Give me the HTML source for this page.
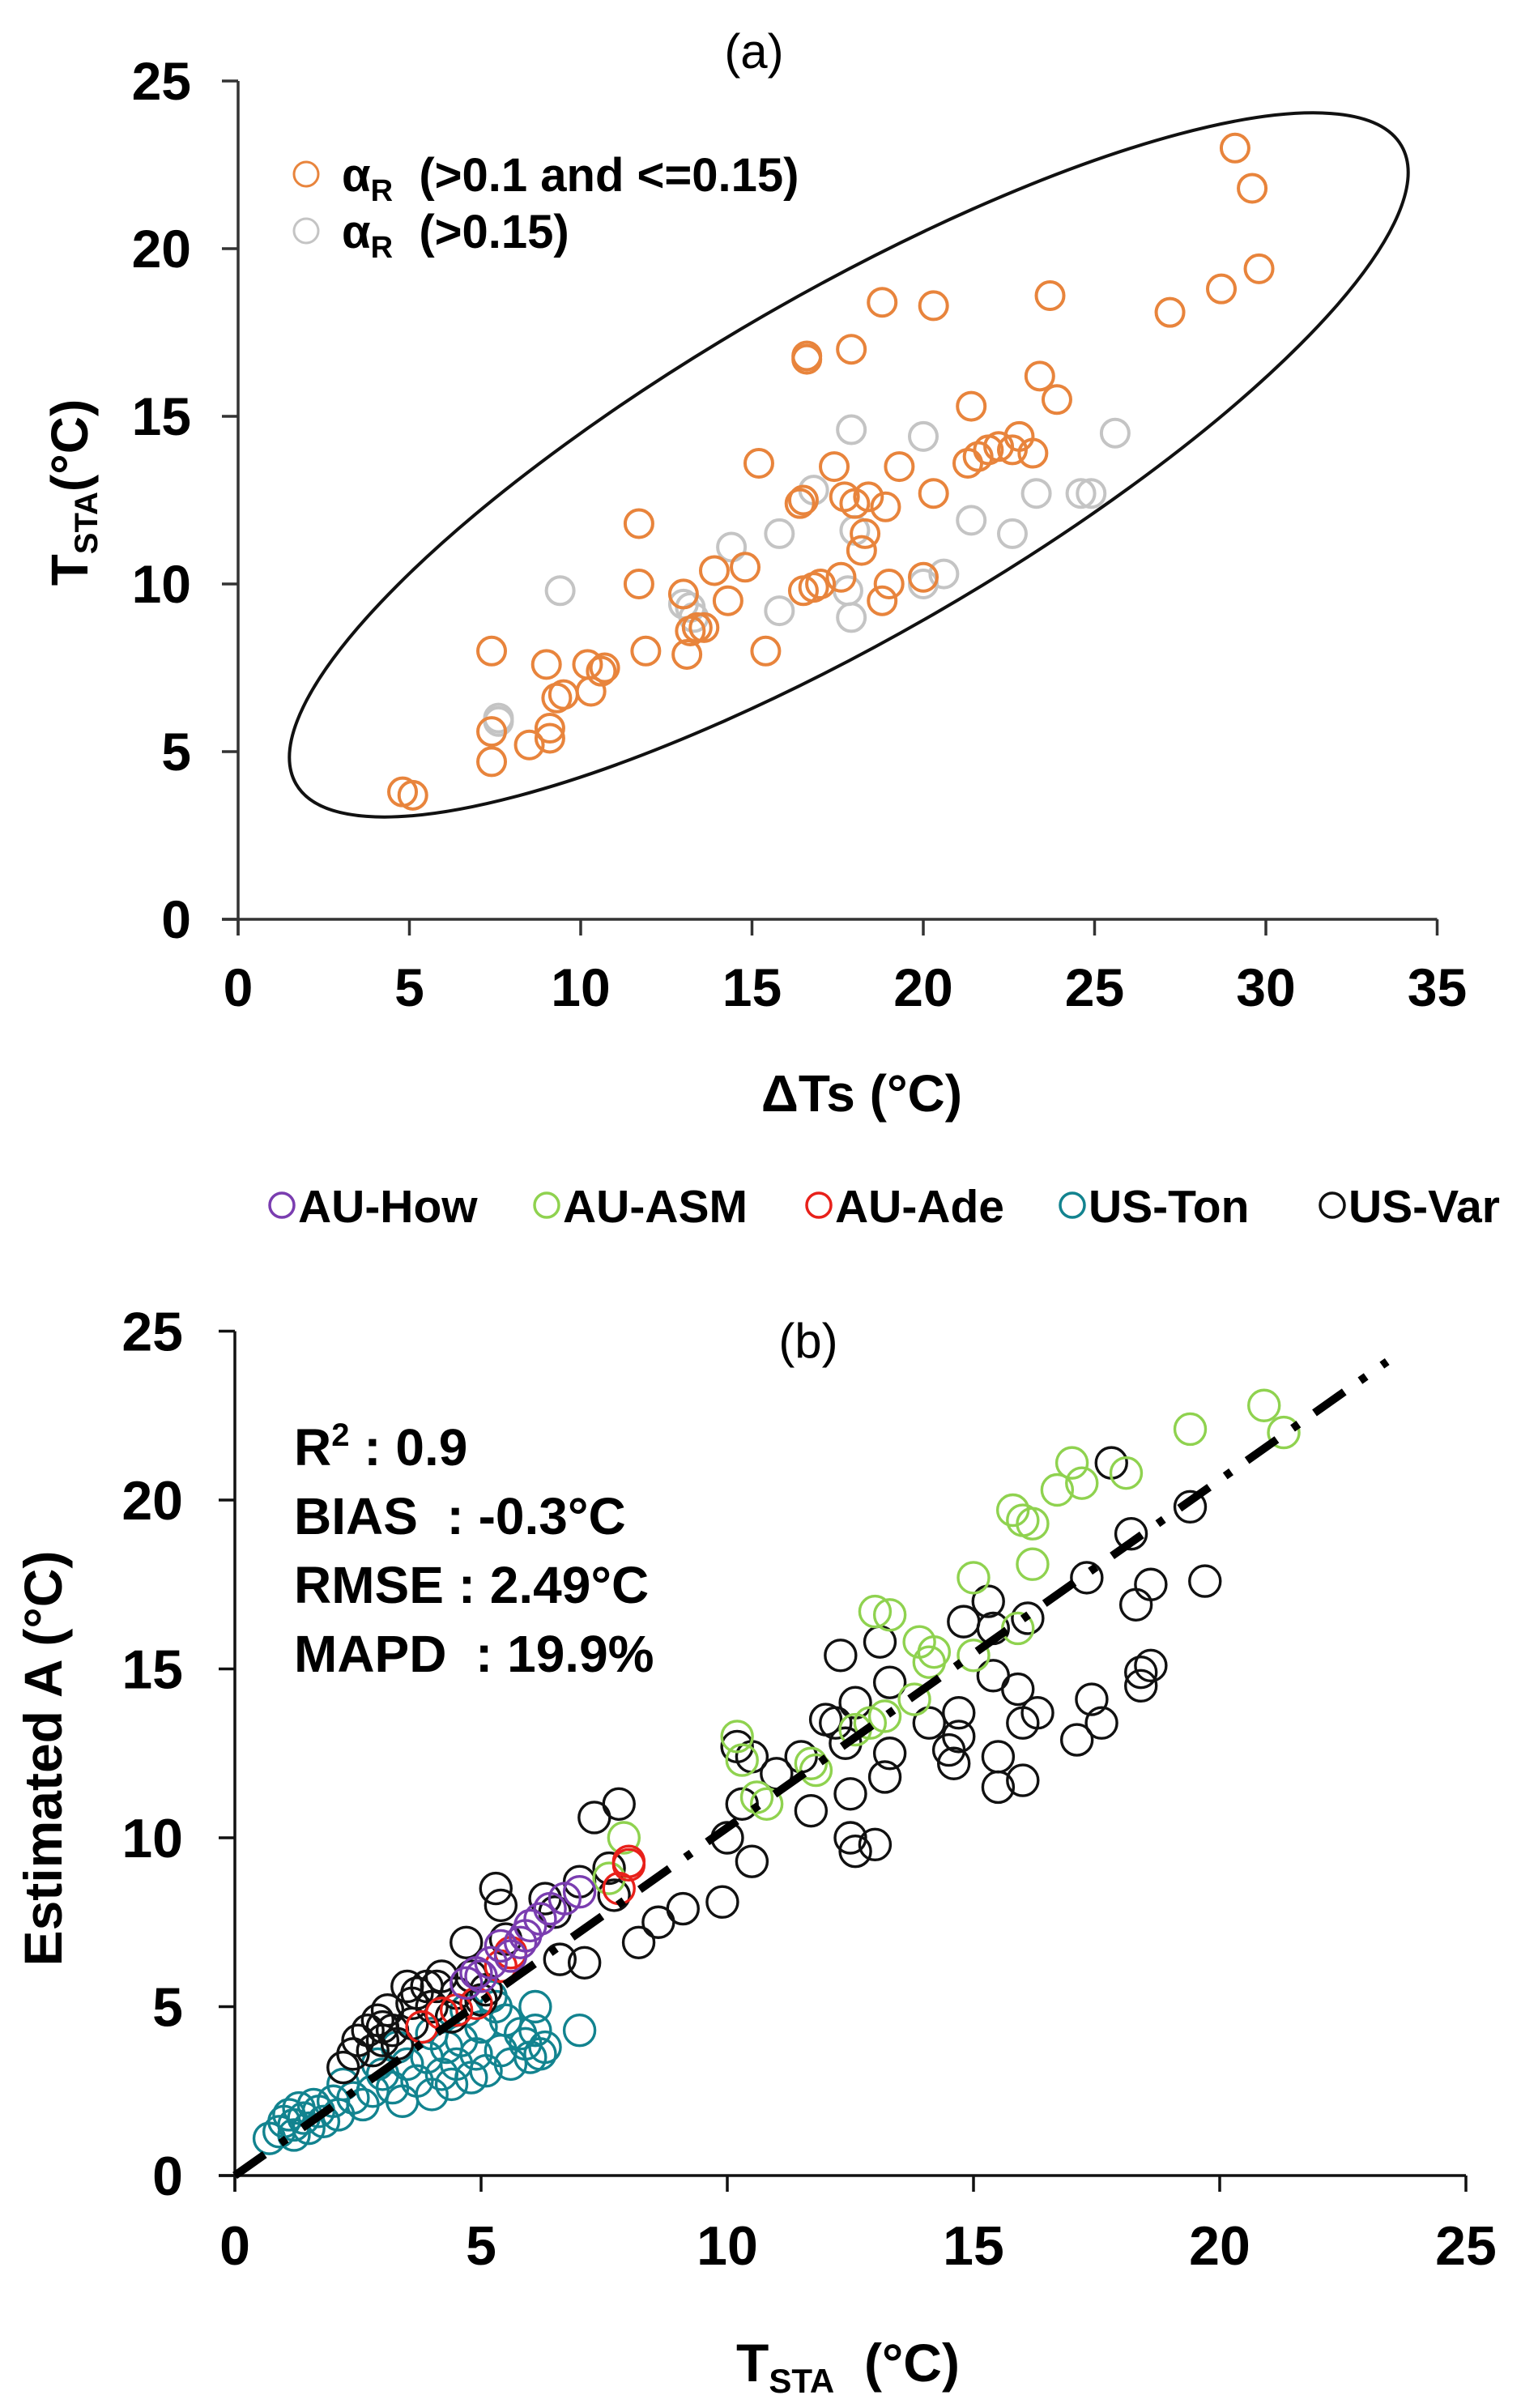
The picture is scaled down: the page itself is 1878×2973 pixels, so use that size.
<!DOCTYPE html>
<html><head><meta charset="utf-8"><style>
html,body{margin:0;padding:0;background:#fff;}
svg{display:block;font-family:"Liberation Sans",Arial,sans-serif;}
.pre{white-space:pre;}
</style></head><body>
<svg id="fig" width="1878" height="2973" viewBox="0 0 1878 2973" xmlns="http://www.w3.org/2000/svg">
<g id="pa"></g>
<g id="pb"></g>
</svg>
<script>
// ---------- Chart (a) data ----------
const aTicksX = [0,5,10,15,20,25,30,35];
const aTicksY = [0,5,10,15,20,25];
const aOrangeX = [4.8,5.1,7.4,7.4,7.4,8.5,9.0,9.1,9.1,9.3,9.5,10.2,10.3,10.6,10.7,11.7,11.7,11.9,13.0,13.1,13.2,13.4,13.6,13.9,14.3,14.8,15.2,15.4,16.4,16.5,16.5,16.6,16.6,17.0,17.4,17.6,17.9,17.7,18.0,18.2,18.3,18.4,18.8,18.8,18.9,19.0,19.3,20.3,20.3,21.3,21.4,21.6,21.9,22.2,22.6,22.8,23.2,23.4,23.7,23.9,27.2,28.7,29.1,29.6,29.8,20.0,16.8];
const aOrangeY = [3.8,3.7,8.0,4.7,5.6,5.2,7.6,5.4,5.7,6.6,6.7,7.6,6.8,7.4,7.5,11.8,10.0,8.0,9.7,7.9,8.6,8.7,8.7,10.4,9.5,10.5,13.6,8.0,12.4,9.8,12.5,16.7,16.8,10.0,13.5,10.2,17.0,12.6,12.4,11.0,11.5,12.6,18.4,9.5,12.3,10.0,13.5,18.3,12.7,13.6,15.3,13.8,14.0,14.1,14.0,14.4,13.9,16.2,18.6,15.5,18.1,18.8,23.0,21.8,19.4,10.2,9.9];
const aGrayX = [7.6,7.6,9.4,13.0,13.3,14.4,15.8,15.8,16.8,17.9,17.8,17.9,18.0,20.0,20.0,20.6,21.4,22.6,23.3,24.6,24.9,25.6,13.2];
const aGrayY = [5.9,6.0,9.8,9.4,9.0,11.1,11.5,9.2,12.8,14.6,9.8,9.0,11.6,14.4,10.0,10.3,11.9,11.5,12.7,12.7,12.7,14.5,9.3];

// ---------- Chart (b) data ----------
const bTicksX = [0,5,10,15,20,25];
const bTicksY = [0,5,10,15,20,25];
const tonX = [0.7,0.9,1.0,1.1,1.2,1.3,1.4,1.5,1.6,1.7,1.8,2.0,2.1,2.2,2.4,2.6,2.8,3.0,3.2,3.4,3.5,3.7,3.9,4.0,4.2,4.3,4.4,4.5,4.6,4.8,4.9,5.0,5.1,5.3,5.4,5.5,5.6,5.8,5.9,6.0,6.1,6.2,6.3,5.2,4.7,7.0,6.1,4.0,3.3,2.9,1.2];
const tonY = [1.1,1.3,1.6,1.8,1.5,2.0,1.7,1.4,2.1,1.9,1.6,2.2,1.8,2.7,2.3,2.1,2.5,3.0,2.6,2.2,3.3,2.8,3.5,2.4,3.0,3.8,2.7,3.3,4.0,2.9,3.6,4.4,3.1,5.0,3.7,4.6,3.3,4.2,3.9,3.5,4.3,3.6,3.8,5.3,4.9,4.3,5.0,4.2,3.8,3.3,1.2];
const varX = [2.2,2.4,2.5,2.7,2.8,2.9,3.0,3.1,3.2,3.3,3.5,3.6,3.7,3.9,4.0,4.2,4.4,4.5,4.7,4.8,5.0,5.1,5.3,5.4,5.5,6.3,6.5,6.6,7.0,7.1,7.3,7.8,7.6,7.7,8.2,8.6,9.1,9.9,10.0,10.2,10.3,10.5,10.5,11.0,11.5,11.7,12.0,12.2,12.3,12.4,12.5,12.5,12.6,12.6,13.1,13.0,13.2,13.3,13.3,14.1,14.5,14.6,14.7,14.7,14.8,15.3,15.4,15.4,15.5,15.5,15.9,16.0,16.0,16.1,16.3,17.1,17.3,17.4,17.6,17.8,18.2,18.3,18.4,18.4,18.6,18.6,19.4,19.7,3.0,3.6,4.1];
const varY = [3.2,3.6,4.0,4.3,3.7,4.6,4.0,4.9,4.3,3.9,5.6,5.1,5.4,5.6,5.0,5.9,4.7,5.4,6.9,5.9,5.2,5.5,8.5,8.0,7.0,8.2,7.8,6.4,8.7,6.3,10.6,11.0,9.1,8.3,6.9,7.5,7.9,8.1,10.0,12.7,11.0,12.4,9.3,11.9,12.4,10.8,13.5,13.4,15.4,12.8,11.3,10.0,9.6,14.0,15.8,9.8,11.8,14.6,12.5,13.4,12.6,12.2,13.0,13.7,16.4,17.0,14.8,16.2,12.4,11.5,14.4,11.7,13.4,16.5,13.7,12.9,17.7,14.1,13.4,21.1,19.0,16.9,14.5,14.9,17.5,15.1,19.8,17.6,4.4,4.5,5.6];
const asmX = [7.9,7.6,10.2,10.3,10.6,10.8,11.7,11.8,12.6,13.0,13.3,12.9,13.2,13.8,13.9,14.1,14.2,15.0,15.0,15.8,15.9,16.0,16.2,16.2,16.7,17.0,17.2,18.1,19.4,20.9,21.3];
const asmY = [10.0,8.8,13.0,12.3,11.2,11.0,12.2,12.0,13.2,16.7,16.6,13.4,13.6,14.1,15.8,15.2,15.5,15.4,17.7,19.7,16.2,19.4,19.3,18.1,20.3,21.1,20.5,20.8,22.1,22.8,22.0];
const adeX = [3.8,4.2,4.5,5.4,5.6,7.8,8.0,8.0,4.9];
const adeY = [4.4,4.8,4.9,6.2,6.6,8.5,9.2,9.3,5.1];
const howX = [4.7,4.9,5.2,5.4,5.6,5.9,6.0,6.2,6.4,6.7,7.0,5.0,5.8];
const howY = [5.7,6.0,6.3,6.8,6.5,7.1,7.4,7.6,7.9,8.2,8.4,5.9,6.9];
const fitLineX = [0,23.4];
const fitLineY = [0,24.1];
const legendNames = ["AU-How","AU-ASM","AU-Ade","US-Ton","US-Var"];
const statLines = ["BIAS  : -0.3°C","RMSE : 2.49°C","MAPD  : 19.9%"];

const NS="http://www.w3.org/2000/svg";
function mk(tag, parent, attrs){const e=document.createElementNS(NS,tag);for(const k in attrs)e.setAttribute(k,attrs[k]);parent.appendChild(e);return e;}

const ax = v => 294 + v*42.3;
const ay = v => 1135 - v*41.4;
const bx = v => 290 + v*60.8;
const by = v => 2686 - v*41.7;

// ===== Chart A =====
const A=document.getElementById('pa');
let t;
t=mk('text',A,{x:931,y:84,'font-size':60,'text-anchor':'middle'});t.textContent='(a)';


let el=mk('ellipse',A,{cx:1048,cy:574,rx:788,ry:212,transform:'rotate(-30 1048 574)',fill:'none',stroke:'#111','stroke-width':4});


let ln=mk('line',A,{x1:ax(0),y1:ay(25),x2:ax(0),y2:ay(0)+20,stroke:'#333','stroke-width':3.5});


ln=mk('line',A,{x1:ax(0)-20,y1:ay(0),x2:ax(35),y2:ay(0),stroke:'#333','stroke-width':3.5});


aTicksY.forEach(v=>{
  const tk=mk('line',A,{x1:ax(0)-20,y1:ay(v),x2:ax(0),y2:ay(v),stroke:'#333','stroke-width':3.5});
  
  
  const tx=mk('text',A,{x:236,y:ay(v)+23,'font-size':66,'font-weight':'bold','text-anchor':'end'});tx.textContent=v;
  
  
});
aTicksX.forEach(v=>{
  const tk=mk('line',A,{x1:ax(v),y1:ay(0),x2:ax(v),y2:ay(0)+20,stroke:'#333','stroke-width':3.5});
  
  
  const tx=mk('text',A,{x:ax(v),y:1242,'font-size':66,'font-weight':'bold','text-anchor':'middle'});tx.textContent=v;
  
  
});
t=mk('text',A,{x:1064,y:1372,'font-size':64,'font-weight':'bold','text-anchor':'middle'});t.textContent='ΔTs (°C)';


t=mk('text',A,{x:0,y:0,'font-size':64,'font-weight':'bold','text-anchor':'middle',transform:'translate(108 608) rotate(-90)'});
t.innerHTML='T<tspan font-size="40" dy="12">STA</tspan><tspan dy="-12">(°C)</tspan>';


aGrayX.forEach((v,i)=>{const c=mk('circle',A,{cx:ax(v),cy:ay(aGrayY[i]),r:17,fill:'none',stroke:'#c4c4c4','stroke-width':4});
  
  });
aOrangeX.forEach((v,i)=>{const c=mk('circle',A,{cx:ax(v),cy:ay(aOrangeY[i]),r:17,fill:'none',stroke:'#e8843c','stroke-width':4});
  
  });
let c=mk('circle',A,{cx:378,cy:215,r:15,fill:'none',stroke:'#e8843c','stroke-width':3});


t=mk('text',A,{x:422,y:236,'font-size':58,'font-weight':'bold','class':'pre'});t.innerHTML='α<tspan font-size="38" dy="12">R</tspan><tspan dy="-12">  (&gt;0.1 and &lt;=0.15)</tspan>';


c=mk('circle',A,{cx:378,cy:285,r:15,fill:'none',stroke:'#c4c4c4','stroke-width':3});


t=mk('text',A,{x:422,y:306,'font-size':58,'font-weight':'bold','class':'pre'});t.innerHTML='α<tspan font-size="38" dy="12">R</tspan><tspan dy="-12">  (&gt;0.15)</tspan>';



// ===== Chart B =====
const B=document.getElementById('pb');
const colors=['#7a3db0','#8fd24f','#e8201a','#12838f','#111111'];
const lgX=[348,675,1011,1324,1645];
legendNames.forEach((n,i)=>{
  const m=mk('circle',B,{cx:lgX[i],cy:1488,r:15,fill:'none',stroke:colors[i],'stroke-width':3.5});
  
  
  const tx=mk('text',B,{x:lgX[i]+20,y:1509,'font-size':57,'font-weight':'bold'});tx.textContent=n;
  
  
});
t=mk('text',B,{x:998,y:1676,'font-size':60,'text-anchor':'middle'});t.textContent='(b)';


ln=mk('line',B,{x1:bx(0),y1:by(25),x2:bx(0),y2:by(0)+20,stroke:'#111','stroke-width':3.5});


ln=mk('line',B,{x1:bx(0)-20,y1:by(0),x2:bx(25),y2:by(0),stroke:'#111','stroke-width':3.5});


bTicksY.forEach(v=>{
  const tk=mk('line',B,{x1:bx(0)-20,y1:by(v),x2:bx(0),y2:by(v),stroke:'#111','stroke-width':3.5});
  
  
  const tx=mk('text',B,{x:226,y:by(v)+24,'font-size':68,'font-weight':'bold','text-anchor':'end'});tx.textContent=v;
  
  
});
bTicksX.forEach(v=>{
  const tk=mk('line',B,{x1:bx(v),y1:by(0),x2:bx(v),y2:by(0)+20,stroke:'#111','stroke-width':3.5});
  
  
  const tx=mk('text',B,{x:bx(v),y:2796,'font-size':68,'font-weight':'bold','text-anchor':'middle'});tx.textContent=v;
  
  
});
t=mk('text',B,{x:0,y:0,'font-size':66,'font-weight':'bold','text-anchor':'middle',transform:'translate(76 2171) rotate(-90)'});t.textContent='Estimated A (°C)';


t=mk('text',B,{x:1047,y:2940,'font-size':66,'font-weight':'bold','text-anchor':'middle','class':'pre'});
t.innerHTML='T<tspan font-size="42" dy="14">STA</tspan><tspan dy="-14">  (°C)</tspan>';


t=mk('text',B,{x:363,y:1809,'font-size':64,'font-weight':'bold','class':'pre'});t.innerHTML='R<tspan font-size="40" dy="-24">2</tspan><tspan dy="24"> : 0.9</tspan>';


statLines.forEach((s,i)=>{const tx=mk('text',B,{x:363,y:1894+i*85,'font-size':64,'font-weight':'bold','class':'pre'});tx.textContent=s;
  
  });
function series(xs,ys,col,name){xs.forEach((v,i)=>{const p=mk('circle',B,{cx:bx(v),cy:by(ys[i]),r:19,fill:'none',stroke:col,'stroke-width':3.4});
  
  });}
series(tonX,tonY,colors[3],'point-us-ton');
series(varX,varY,colors[4],'point-us-var');
series(asmX,asmY,colors[1],'point-au-asm');
series(adeX,adeY,colors[2],'point-au-ade');
series(howX,howY,colors[0],'point-au-how');
ln=mk('line',B,{x1:bx(fitLineX[0]),y1:by(fitLineY[0]),x2:bx(fitLineX[1]),y2:by(fitLineY[1]),stroke:'#000','stroke-width':10,'stroke-dasharray':'45 24 9 24'});


</script>
</body></html>
